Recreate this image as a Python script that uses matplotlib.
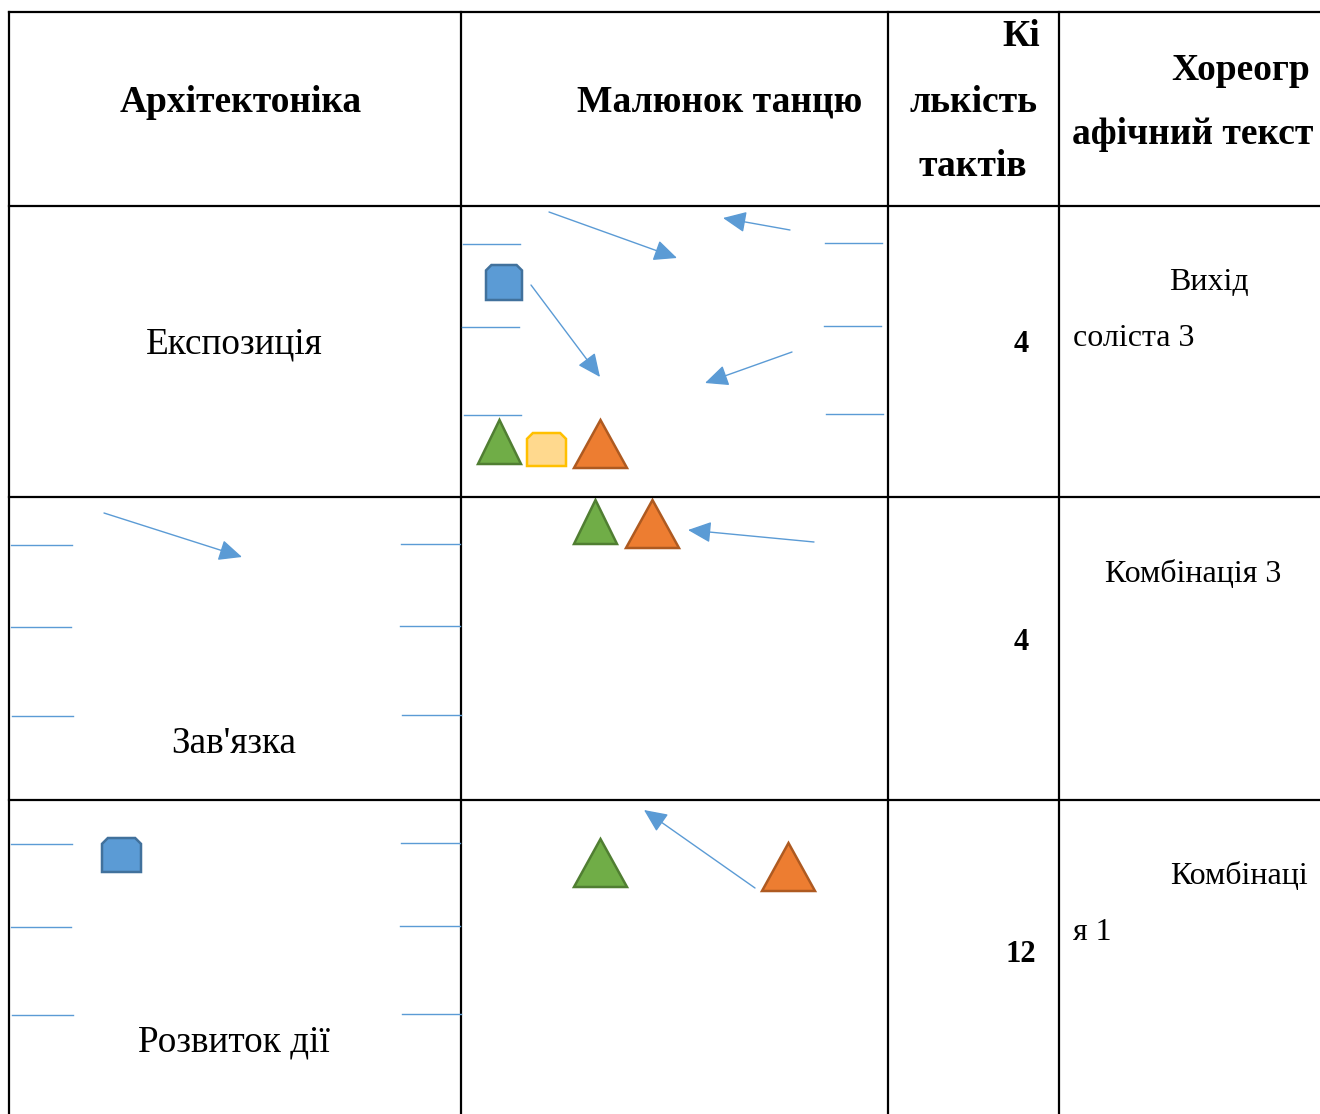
import matplotlib.pyplot as plt
from matplotlib.patches import Polygon, FancyArrowPatch

plt.rcParams['font.family'] = ['Liberation Serif', 'DejaVu Serif']

# table grid (pixel units of the page)
col_edges = [9, 461, 888, 1059]
row_edges = [12, 206, 497, 800]

# header cells: text, x, y, align
header_texts = ["Архітектоніка", "Малюнок танцю", "Кі", "лькість", "тактів",
                "Хореогр", "афічний текст"]
header_x = [241, 862, 1040, 973, 973, 1310, 1313]
header_y = [102, 102, 37, 102, 167, 70, 134]
header_ha = ["center", "right", "right", "center", "center", "right", "right"]

# section names
section_names = ["Експозиція", "Зав'язка", "Розвиток дії"]
section_x = [234, 234, 234]
section_y = [344, 744, 1042]

# number of bars
bar_counts = ["4", "4", "12"]
bar_y = [345, 642, 954]

# choreographic text
chor_texts = ["Вихід", "соліста 3", "Комбінація 3", "Комбінаці", "я 1"]
chor_x = [1209, 1073, 1193, 1308, 1073]
chor_y = [283, 339, 574, 877, 932]
chor_ha = ["center", "left", "center", "right", "left"]

# short stage-edge lines: x0, x1, y
edge_lines = [
    (463, 520, 244), (462, 519, 327), (464, 521, 415),
    (825, 882, 243), (824, 881, 326), (826, 883, 414),
    (11, 72, 545), (11, 71, 627), (12, 73, 716),
    (401, 460, 544), (400, 460, 626), (402, 461, 715),
    (11, 72, 844), (11, 71, 927), (12, 73, 1015),
    (401, 460, 843), (400, 460, 926), (402, 461, 1014),
]

# movement arrows: start -> end
arrows = [
    ((549, 212), (677, 258)), ((790, 230), (723, 218)),
    ((531, 285), (600, 377)), ((792, 352), (705, 383)),
    ((104, 513), (242, 557)), ((814, 542), (688, 530)),
    ((755, 888), (644, 810)),
]

# dancers: kind, x0, x1, top, bottom
dancers = [
    ("blue", 486, 522, 265, 300),
    ("green", 478, 521, 420, 464),
    ("yellow", 527, 566, 433, 466),
    ("orange", 574, 627, 420, 468),
    ("green", 574, 617, 500, 544),
    ("orange", 626, 679, 500, 548),
    ("blue", 102, 141, 838, 872),
    ("green", 574, 627, 839, 887),
    ("orange", 762, 815, 843, 891),
]
dancer_fill = {"blue": "#5b9bd5", "green": "#70ad47", "yellow": "#ffd98e", "orange": "#ed7d31"}
dancer_edge = {"blue": "#41719c", "green": "#507e32", "yellow": "#ffc000", "orange": "#ae5a21"}

fig = plt.figure(figsize=(13.2, 11.14), dpi=100)
ax = fig.add_axes([0, 0, 1, 1])
ax.set_xlim(0, 1320)
ax.set_ylim(1114, 0)
ax.axis("off")

# grid
for x in col_edges:
    ax.plot([x, x], [row_edges[0], 1114], color="black", lw=1.6)
for y in row_edges:
    ax.plot([col_edges[0], 1320], [y, y], color="black", lw=1.6)

for t, x, y, ha in zip(header_texts, header_x, header_y, header_ha):
    ax.text(x, y, t, ha=ha, va="center", fontsize=27, fontweight="bold")
for t, x, y in zip(section_names, section_x, section_y):
    ax.text(x, y, t, ha="center", va="center", fontsize=26.8)
for t, y in zip(bar_counts, bar_y):
    ax.text(1021, y, t, ha="center", va="center", fontsize=22, fontweight="bold")
for t, x, y, ha in zip(chor_texts, chor_x, chor_y, chor_ha):
    ax.text(x, y, t, ha=ha, va="center", fontsize=23)

for x0, x1, y in edge_lines:
    ax.plot([x0, x1], [y, y], color="#5b9bd5", lw=1.0)

for (xs, ys), (xe, ye) in arrows:
    ax.add_patch(FancyArrowPatch((xs, ys), (xe, ye), arrowstyle="-|>,head_length=1.1,head_width=0.5",
                                 mutation_scale=13, color="#5b9bd5", lw=1.0, shrinkA=0, shrinkB=0))

for kind, x0, x1, top, bot in dancers:
    if kind in ("green", "orange"):
        pts = [(x0, bot), ((x0 + x1) / 2, top), (x1, bot)]
    else:
        c = (x1 - x0) * 0.15
        pts = [(x0, bot), (x0, top + c), (x0 + c, top), (x1 - c, top), (x1, top + c), (x1, bot)]
    ax.add_patch(Polygon(pts, closed=True, facecolor=dancer_fill[kind],
                         edgecolor=dancer_edge[kind], lw=1.8, joinstyle="miter"))

fig.savefig("out.png", dpi=100)
